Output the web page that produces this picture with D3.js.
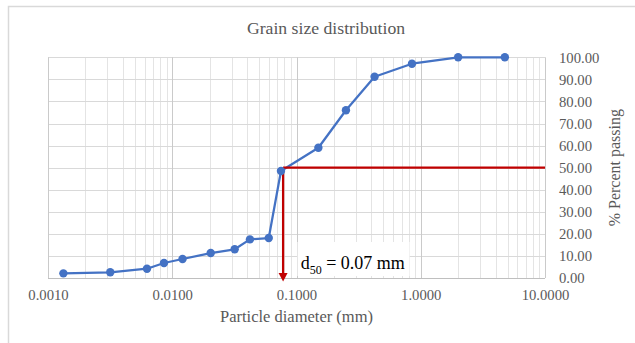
<!DOCTYPE html>
<html>
<head>
<meta charset="utf-8">
<script src="https://cdn.jsdelivr.net/npm/d3@7"></script>
<style>
  html, body { margin: 0; padding: 0; background: #fff; }
  svg { display: block; font-family: "Liberation Serif", "Times New Roman", serif; }
</style>
</head>
<body>
<svg id="chart" width="635" height="343"></svg>
<script>
// Sieve + hydrometer results: particle diameter (mm) and % passing
const diameters = [0.00133, 0.00317, 0.00626, 0.00858, 0.0121, 0.0204, 0.0318, 0.0422, 0.0598,
                   0.075, 0.15, 0.25, 0.425, 0.85, 2.0, 4.75];
const percentPassing = [2.1, 2.6, 4.2, 6.8, 8.6, 11.3, 13.0, 17.5, 18.1,
                        48.5, 59.0, 76.0, 91.2, 97.1, 100, 100];

// Axis ticks
const xTickValues = [0.001, 0.01, 0.1, 1, 10];
const yTickValues = [0, 10, 20, 30, 40, 50, 60, 70, 80, 90, 100];

// D50 read-off
const d50 = 0.078;
const d50Percent = 50;

const titleText = "Grain size distribution";
const xTitle = "Particle diameter (mm)";
const yTitle = "% Percent passing";

const svg = d3.select("#chart");
const plot = { left: 48, right: 545, top: 57.3, bottom: 278 };

const x = d3.scaleLog().domain([0.001, 10]).range([plot.left, plot.right]);
const y = d3.scaleLinear().domain([0, 100]).range([plot.bottom, plot.top]);

// Chart frame
svg.append("rect")
  .attr("x", 8.5).attr("y", 6.5).attr("width", 700).attr("height", 400)
  .attr("fill", "#fff").attr("stroke", "#d9d9d9").attr("stroke-width", 1.5);

// Vertical gridlines: minor (2..9 in each decade) and major (decades)
const isDecade = v => Math.abs(Math.log10(v) - Math.round(Math.log10(v))) < 1e-9;
const allXTicks = x.ticks();
const grid = svg.append("g");
grid.selectAll("line.minor")
  .data(allXTicks.filter(v => !isDecade(v)))
  .join("line")
  .attr("x1", d => Math.round(x(d)) + 0.5).attr("x2", d => Math.round(x(d)) + 0.5)
  .attr("y1", plot.top).attr("y2", plot.bottom)
  .attr("stroke", "#e4e4e4").attr("stroke-width", 1);

// Horizontal gridlines
grid.selectAll("line.h")
  .data(yTickValues)
  .join("line")
  .attr("x1", plot.left).attr("x2", plot.right)
  .attr("y1", d => Math.round(y(d)) + 0.5).attr("y2", d => Math.round(y(d)) + 0.5)
  .attr("stroke", "#d9d9d9").attr("stroke-width", 1);

grid.selectAll("line.major")
  .data(xTickValues)
  .join("line")
  .attr("x1", d => Math.round(x(d)) + 0.5).attr("x2", d => Math.round(x(d)) + 0.5)
  .attr("y1", plot.top).attr("y2", plot.bottom)
  .attr("stroke", "#cacaca").attr("stroke-width", 1);

// Bottom axis line
svg.append("line")
  .attr("x1", plot.left).attr("x2", plot.right)
  .attr("y1", Math.round(plot.bottom) + 0.5).attr("y2", Math.round(plot.bottom) + 0.5)
  .attr("stroke", "#bfbfbf").attr("stroke-width", 1);

// Axes labels
const xAxis = svg.append("g")
  .attr("transform", `translate(0,${plot.bottom})`)
  .call(d3.axisBottom(x).tickValues(xTickValues).tickFormat(d3.format(".4f")).tickSize(0).tickPadding(11.5));
const yAxis = svg.append("g")
  .attr("transform", `translate(${plot.right},0)`)
  .call(d3.axisRight(y).tickValues(yTickValues).tickFormat(d3.format(".2f")).tickSize(0).tickPadding(14));
[xAxis, yAxis].forEach(a => {
  a.select(".domain").remove();
  a.selectAll("text")
    .attr("fill", "#595959")
    .style("font-family", "'Liberation Serif', 'Times New Roman', serif")
    .style("font-size", "14.7px");
});

// Data annotation: d50 box, horizontal read-off line and arrow
const boxG = svg.append("g");
boxG.append("rect")
  .attr("x", 297.5).attr("y", 242).attr("width", 112).attr("height", 34)
  .attr("fill", "#fff");
const ann = boxG.append("text")
  .attr("x", 300.7).attr("y", 269)
  .attr("fill", "#000")
  .style("font-size", "18px");
ann.append("tspan").text("d");
ann.append("tspan").attr("dy", 5).style("font-size", "12px").text("50");
ann.append("tspan").attr("dy", -5)
  .text(` = ${d3.format(".2f")(Math.floor(d50 * 100) / 100)} mm`);

// Gradation curve
const line = d3.line().x((d, i) => x(diameters[i])).y(d => y(d));
svg.append("path")
  .datum(percentPassing)
  .attr("d", line)
  .attr("fill", "none")
  .attr("stroke", "#4472C4")
  .attr("stroke-width", 2.25)
  .attr("stroke-linejoin", "round");

// Red read-off lines
const red = "#C00000";
svg.append("line")
  .attr("x1", x(d50)).attr("x2", plot.right)
  .attr("y1", y(d50Percent)).attr("y2", y(d50Percent))
  .attr("stroke", red).attr("stroke-width", 2.25);
const arrowTip = plot.bottom + 3.5;
svg.append("line")
  .attr("x1", x(d50)).attr("x2", x(d50))
  .attr("y1", y(d50Percent)).attr("y2", arrowTip - 6)
  .attr("stroke", red).attr("stroke-width", 2.25);
svg.append("path")
  .attr("d", `M${x(d50) - 4.5},${arrowTip - 8.5} L${x(d50) + 4.5},${arrowTip - 8.5} L${x(d50)},${arrowTip} Z`)
  .attr("fill", red);

svg.append("g").selectAll("circle")
  .data(percentPassing)
  .join("circle")
  .attr("cx", (d, i) => x(diameters[i]))
  .attr("cy", d => y(d))
  .attr("r", 4.2)
  .attr("fill", "#4472C4");

// Titles
svg.append("text")
  .attr("x", 326).attr("y", 34)
  .attr("text-anchor", "middle")
  .attr("fill", "#595959")
  .style("font-size", "17.7px")
  .text(titleText);
svg.append("text")
  .attr("x", (plot.left + plot.right) / 2).attr("y", 322)
  .attr("text-anchor", "middle")
  .attr("fill", "#595959")
  .style("font-size", "16.5px")
  .text(xTitle);
svg.append("text")
  .attr("transform", `translate(620,${(plot.top + plot.bottom) / 2}) rotate(-90)`)
  .attr("text-anchor", "middle")
  .attr("fill", "#595959")
  .style("font-size", "16px")
  .text(yTitle);
</script>
</body>
</html>
